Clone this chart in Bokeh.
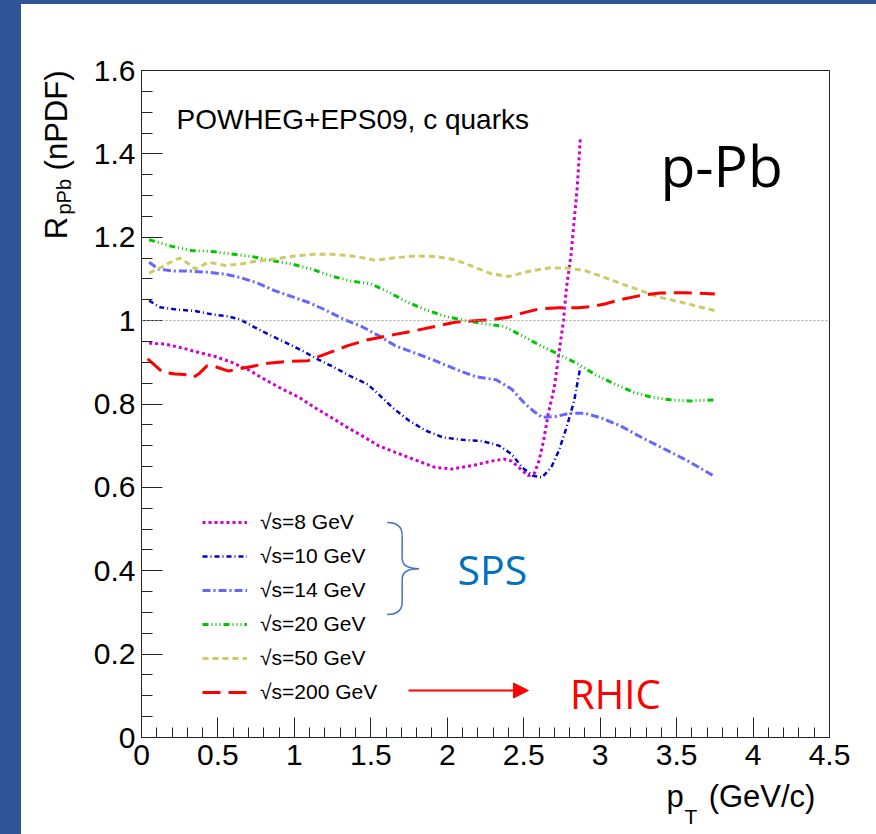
from math import pi
from bokeh.plotting import figure
from bokeh.models import (Range1d, FixedTicker, Label, Span, Legend, LegendItem,
                          Arrow, NormalHead)
from bokeh.embed import file_html
from bokeh.resources import INLINE

# ---------------- data ----------------
x_ticks = [0, 0.5, 1, 1.5, 2, 2.5, 3, 3.5, 4, 4.5]
x_tick_labels = ["0", "0.5", "1", "1.5", "2", "2.5", "3", "3.5", "4", "4.5"]
y_ticks = [0, 0.2, 0.4, 0.6, 0.8, 1, 1.2, 1.4, 1.6]
y_tick_labels = ["0", "0.2", "0.4", "0.6", "0.8", "1", "1.2", "1.4", "1.6"]

pt_8 = [0.05, 0.15, 0.26, 0.37, 0.48, 0.59, 0.70, 0.81, 0.92, 1.03, 1.13, 1.24, 1.35, 1.46,
        1.55, 1.66, 1.79, 1.92, 2.03, 2.16, 2.29, 2.37, 2.42, 2.48, 2.53, 2.57, 2.60, 2.63,
        2.66, 2.70, 2.73, 2.76, 2.78, 2.81, 2.83, 2.85, 2.87]
r_8 = [0.946, 0.944, 0.935, 0.924, 0.914, 0.900, 0.882, 0.858, 0.836, 0.816, 0.792, 0.768,
       0.743, 0.720, 0.700, 0.684, 0.666, 0.648, 0.644, 0.652, 0.663, 0.668, 0.663, 0.644,
       0.628, 0.634, 0.664, 0.712, 0.776, 0.840, 0.920, 1.000, 1.080, 1.160, 1.240, 1.320, 1.436]

pt_10 = [0.05, 0.12, 0.22, 0.35, 0.46, 0.57, 0.65, 0.74, 0.83, 0.94, 1.05, 1.16, 1.26, 1.37,
         1.48, 1.56, 1.64, 1.75, 1.86, 1.97, 2.10, 2.23, 2.34, 2.42, 2.49, 2.56, 2.62, 2.68,
         2.73, 2.78, 2.83, 2.87]
r_10 = [1.048, 1.032, 1.027, 1.023, 1.015, 1.010, 1.002, 0.984, 0.967, 0.948, 0.928, 0.906,
        0.888, 0.866, 0.847, 0.820, 0.792, 0.760, 0.736, 0.720, 0.714, 0.711, 0.700, 0.680,
        0.648, 0.628, 0.624, 0.648, 0.688, 0.744, 0.808, 0.888]

pt_14 = [0.05, 0.11, 0.20, 0.31, 0.44, 0.55, 0.65, 0.76, 0.87, 0.98, 1.09, 1.20, 1.33, 1.44,
         1.55, 1.66, 1.79, 1.92, 2.05, 2.18, 2.32, 2.42, 2.50, 2.56, 2.62, 2.71, 2.80, 2.90,
         3.01, 3.13, 3.26, 3.42, 3.57, 3.75]
r_14 = [1.140, 1.124, 1.119, 1.119, 1.116, 1.111, 1.103, 1.090, 1.072, 1.058, 1.044, 1.026,
        1.002, 0.986, 0.964, 0.940, 0.922, 0.904, 0.884, 0.866, 0.858, 0.836, 0.804, 0.784,
        0.768, 0.770, 0.778, 0.778, 0.766, 0.748, 0.722, 0.692, 0.664, 0.626]

pt_20 = [0.05, 0.20, 0.33, 0.46, 0.59, 0.72, 0.85, 0.98, 1.11, 1.24, 1.37, 1.50, 1.62, 1.74,
         1.86, 1.99, 2.12, 2.25, 2.37, 2.49, 2.61, 2.73, 2.86, 2.97, 3.09, 3.22, 3.34, 3.46,
         3.59, 3.75]
r_20 = [1.194, 1.178, 1.168, 1.166, 1.160, 1.154, 1.144, 1.136, 1.124, 1.107, 1.095, 1.088,
        1.068, 1.044, 1.026, 1.010, 1.000, 0.992, 0.986, 0.964, 0.940, 0.919, 0.895, 0.870,
        0.849, 0.828, 0.816, 0.810, 0.807, 0.810]

pt_50 = [0.05, 0.13, 0.21, 0.25, 0.31, 0.35, 0.44, 0.55, 0.65, 0.76, 0.87, 1.00, 1.13, 1.26,
         1.40, 1.53, 1.66, 1.79, 1.92, 2.05, 2.18, 2.29, 2.40, 2.53, 2.66, 2.78, 2.90, 3.01,
         3.15, 3.28, 3.39, 3.53, 3.66, 3.75]
r_50 = [1.114, 1.128, 1.144, 1.150, 1.136, 1.124, 1.140, 1.132, 1.136, 1.143, 1.148, 1.155,
        1.159, 1.159, 1.154, 1.145, 1.151, 1.155, 1.154, 1.146, 1.128, 1.112, 1.106, 1.118,
        1.126, 1.126, 1.120, 1.106, 1.087, 1.070, 1.056, 1.044, 1.032, 1.024]

pt_200 = [0.04, 0.09, 0.14, 0.22, 0.28, 0.34, 0.38, 0.43, 0.48, 0.57, 0.63, 0.72, 0.83, 0.96,
          1.09, 1.22, 1.35, 1.48, 1.55, 1.66, 1.79, 1.92, 2.05, 2.18, 2.29, 2.40, 2.49, 2.60,
          2.73, 2.86, 2.95, 3.03, 3.13, 3.26, 3.39, 3.55, 3.75]
r_200 = [0.908, 0.892, 0.876, 0.872, 0.871, 0.864, 0.874, 0.892, 0.890, 0.879, 0.884, 0.890,
         0.898, 0.902, 0.904, 0.922, 0.940, 0.954, 0.959, 0.967, 0.976, 0.986, 0.996, 1.000,
         1.002, 1.008, 1.018, 1.028, 1.031, 1.031, 1.034, 1.040, 1.050, 1.060, 1.066, 1.067, 1.064]

series_labels = ["√s=8 GeV", "√s=10 GeV", "√s=14 GeV", "√s=20 GeV", "√s=50 GeV", "√s=200 GeV"]
series_x = [pt_8, pt_10, pt_14, pt_20, pt_50, pt_200]
series_y = [r_8, r_10, r_14, r_20, r_50, r_200]
series_colors = ["#D000D0", "#0000CC", "#6666FF", "#00C800", "#CCCC66", "#FF0000"]
series_dash = ["3 3", "5 3 1 3", "8 3 2 3", "6 3 1 3 1 3 1 3", "6 4", "18 8"]
series_width = [3, 2.5, 3, 3, 3, 3]

FONT = "Liberation Sans"
BAND = "#2F5597"

# ---------------- figure ----------------
p = figure(width=876, height=834, x_range=Range1d(0, 4.5), y_range=Range1d(0, 1.6),
           output_backend="svg", toolbar_location=None,
           min_border_left=141, min_border_right=47, min_border_top=70, min_border_bottom=97,
           styles={"background": f"linear-gradient(to bottom, {BAND} 4px, transparent 4px), "
                                 f"linear-gradient(to right, {BAND} 21px, white 21px)"})
p.xgrid.visible = False
p.ygrid.visible = False
p.background_fill_color = "white"
p.border_fill_alpha = 0
p.outline_line_color = "#222222"
p.outline_line_width = 1

xa = p.xaxis[0]
xa.ticker = FixedTicker(ticks=x_ticks, minor_ticks=[i / 10 for i in range(0, 46)])
xa.major_label_overrides = {t: l for t, l in zip(x_ticks, x_tick_labels)}
xa.major_tick_in = 20
xa.major_tick_out = 0
xa.minor_tick_in = 10
xa.minor_tick_out = 0
xa.major_label_standoff = 7
xa.major_label_text_font = FONT
xa.major_label_text_font_size = "30px"
xa.major_label_text_color = "black"
xa.axis_line_color = "#222222"
xa.major_tick_line_color = "#222222"
xa.minor_tick_line_color = "#222222"

ya = p.yaxis[0]
ya.ticker = FixedTicker(ticks=y_ticks, minor_ticks=[i / 20 for i in range(0, 33)])
ya.major_label_overrides = {t: l for t, l in zip(y_ticks, y_tick_labels)}
ya.major_tick_in = 21
ya.major_tick_out = 0
ya.minor_tick_in = 11
ya.minor_tick_out = 0
ya.major_label_standoff = 6
ya.major_label_text_font = FONT
ya.major_label_text_font_size = "30px"
ya.major_label_text_color = "black"
ya.axis_line_color = "#222222"
ya.major_tick_line_color = "#222222"
ya.minor_tick_line_color = "#222222"

# reference line at 1
p.add_layout(Span(location=1, dimension="width", line_color="#9a9a9a",
                  line_dash="2 2", line_width=1))

items = []
for lab, xs, ys, c, d, w in zip(series_labels, series_x, series_y, series_colors,
                                series_dash, series_width):
    r = p.line(xs, ys, line_color=c, line_dash=d, line_width=w)
    items.append(LegendItem(label=lab, renderers=[r]))

legend = Legend(items=items, location=(61, 33), glyph_width=45, glyph_height=24,
                label_height=24, spacing=10, label_standoff=13, padding=0, margin=0,
                border_line_color=None, background_fill_alpha=0,
                label_text_font=FONT, label_text_font_size="21px", label_text_color="black")
p.add_layout(legend, "center")

# texts inside the frame
p.add_layout(Label(x=0.229, y=1.483, text="POWHEG+EPS09, c quarks", text_font=FONT,
                   text_font_size="28px", text_color="black", text_baseline="alphabetic"))
p.add_layout(Label(x=3.394, y=1.374, text="p-Pb", text_font="Open Sans",
                   text_font_size="57px", text_color="black", text_baseline="alphabetic"))
p.add_layout(Label(x=2.067, y=0.403, text="SPS", text_font="Open Sans",
                   text_font_size="41px", text_color="#0070C0", text_baseline="alphabetic"))
p.add_layout(Label(x=2.803, y=0.1056, text="RHIC", text_font="Open Sans",
                   text_font_size="40px", text_color="#FF0000", text_baseline="alphabetic"))

# arrow to RHIC
p.add_layout(Arrow(x_start=1.746, y_start=0.1127, x_end=2.531, y_end=0.1127,
                   line_color="#FF0000", line_width=2,
                   end=NormalHead(size=15, fill_color="#FF0000", line_color="#FF0000")))

# brace for SPS
bc = "#4472C4"
p.quadratic(x0=[1.607, 1.705, 1.814, 1.705], y0=[0.516, 0.430, 0.405, 0.325],
            x1=[1.705, 1.814, 1.705, 1.607], y1=[0.485, 0.405, 0.380, 0.295],
            cx=[1.705, 1.705, 1.705, 1.705], cy=[0.516, 0.405, 0.405, 0.295],
            line_color=bc, line_width=1.5)
p.segment(x0=[1.705, 1.705], y0=[0.485, 0.380], x1=[1.705, 1.705], y1=[0.430, 0.325],
          line_color=bc, line_width=1.5)

# axis titles: placed in side panels (data-positioned, not clipped to the frame);
# spread over the panels so that no border grows beyond its set size
p.add_layout(Label(x=-0.559, y=1.195, text="R", angle=pi / 2, text_font=FONT,
                   text_font_size="31px", text_color="black", text_baseline="alphabetic"), "left")
p.add_layout(Label(x=-0.559, y=1.6, text="(nPDF)", angle=pi / 2, text_align="right",
                   text_font=FONT, text_font_size="31px", text_color="black",
                   text_baseline="alphabetic"), "left")
p.add_layout(Label(x=-0.510, y=1.2545, text="pPb", angle=pi / 2, text_font=FONT,
                   text_font_size="20px", text_color="black", text_baseline="alphabetic"), "right")
p.add_layout(Label(x=3.551, y=-0.1905, text="T", text_font=FONT,
                   text_font_size="21px", text_color="black", text_baseline="alphabetic"), "right")
p.add_layout(Label(x=3.434, y=-0.1408, text="p", text_font=FONT,
                   text_font_size="31px", text_color="black", text_baseline="alphabetic"), "above")
p.add_layout(Label(x=4.408, y=-0.1408, text="(GeV/c)", text_align="right", text_font=FONT,
                   text_font_size="31px", text_color="black", text_baseline="alphabetic"), "below")

open("out.html", "w").write(file_html(p, INLINE))
